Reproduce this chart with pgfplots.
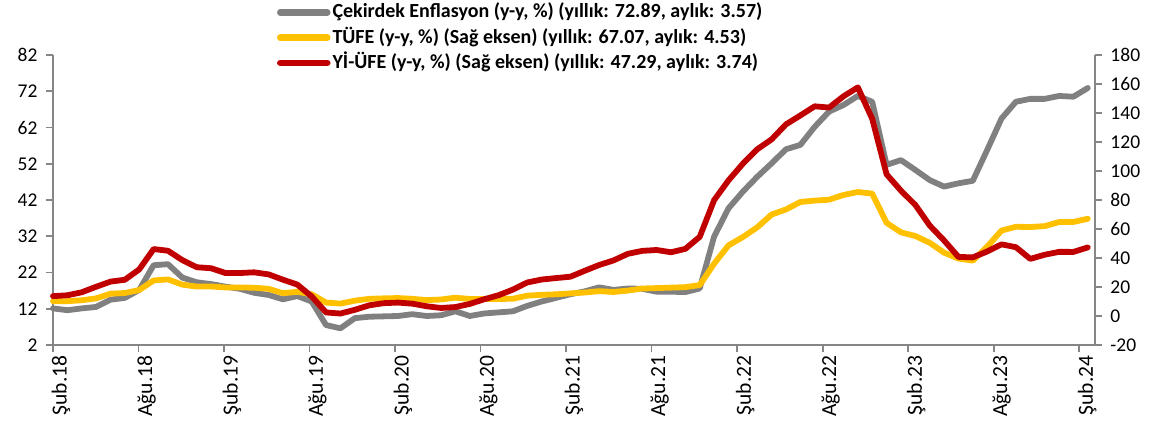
\documentclass[border=0pt]{standalone}
\usepackage{fontspec}
\setmainfont{Carlito}
\usepackage{pgfplots}
\usepackage{pgfplotstable}
\pgfplotsset{compat=1.18}
\definecolor{coregray}{RGB}{128,128,128}
\definecolor{cpiyellow}{RGB}{255,192,0}
\definecolor{ppired}{RGB}{192,0,0}
\definecolor{axgray}{RGB}{134,134,134}

\pgfplotstableread{
i core cpi ppi
0 12.1 10.26 13.71
1 11.6 10.23 14.28
2 12.1 10.85 16.37
3 12.5 12.15 20.16
4 14.5 15.39 23.71
5 15.0 15.85 25.00
6 17.2 17.90 32.13
7 24.0 24.52 46.15
8 24.3 25.24 45.01
9 20.6 21.62 38.54
10 19.3 20.30 33.64
11 18.8 20.35 32.93
12 18.1 19.67 29.64
13 17.5 19.71 29.64
14 16.4 19.50 30.12
15 15.8 18.71 28.71
16 14.6 15.72 25.04
17 15.5 16.65 21.66
18 14.0 15.01 13.45
19 7.5 9.26 2.45
20 6.6 8.55 1.70
21 9.4 10.56 4.26
22 9.8 11.84 7.36
23 9.9 12.15 8.84
24 10.0 12.37 9.26
25 10.5 11.86 8.50
26 10.0 10.94 6.71
27 10.2 11.39 5.53
28 11.3 12.62 6.17
29 10.0 11.76 8.33
30 10.7 11.77 11.53
31 11.0 11.75 14.33
32 11.3 11.89 18.20
33 12.8 14.03 23.11
34 14.0 14.60 25.15
35 15.0 14.97 26.16
36 16.0 15.61 27.09
37 16.8 16.19 31.20
38 17.9 17.14 35.17
39 17.2 16.59 38.33
40 17.6 17.53 42.89
41 17.5 18.95 44.92
42 16.7 19.25 45.52
43 16.7 19.58 43.96
44 16.6 19.89 46.31
45 17.6 21.31 54.62
46 31.9 36.08 79.89
47 39.7 48.69 93.53
48 44.3 54.44 105.01
49 48.4 61.14 114.97
50 52.1 69.97 121.82
51 56.0 73.50 132.16
52 57.2 78.62 138.31
53 62.2 79.60 144.61
54 66.4 80.21 143.75
55 68.2 83.45 151.50
56 70.7 85.51 157.69
57 69.1 84.39 136.02
58 51.7 64.27 97.72
59 53.0 57.68 86.46
60 50.3 55.18 76.61
61 47.5 50.51 62.43
62 45.7 43.68 52.11
63 46.6 39.59 40.76
64 47.3 38.21 40.42
65 55.8 47.83 44.50
66 64.5 58.94 49.41
67 69.1 61.53 47.44
68 69.9 61.36 39.39
69 69.9 61.98 42.25
70 70.7 64.77 44.22
71 70.5 64.86 44.20
72 72.9 67.07 47.29
}\datatable

\pgfplotsset{
  common/.style={
    scale only axis, width=1042bp, height=290bp,
    at={(53bp,83bp)}, anchor=south west,
    xmin=0, xmax=72.5,
    clip=false,
    axis line style={axgray, line width=1.8bp, -},
    major tick style={axgray, line width=1.8bp},
    major tick length=7bp,
    tick align=outside,
    tick label style={font=\fontsize{19.5bp}{23bp}\selectfont, black, /pgf/number format/assume math mode=true},
  },
  serie/.style={line width=5.8bp, line join=round, line cap=round},
}

\begin{document}
\begin{tikzpicture}
\path[use as bounding box] (0,0) rectangle (1162bp,428bp);
\begin{axis}[common,
  axis y line*=left, axis x line*=bottom,
  ymin=2, ymax=82, ytick={2,12,...,82},
  y tick label style={xshift=-5bp},
  xtick={0,5.95,11.9,17.85,23.8,29.75,35.7,41.65,47.6,53.55,59.5,65.45,71.4},
  xticklabels={Şub.18,Ağu.18,Şub.19,Ağu.19,Şub.20,Ağu.20,Şub.21,Ağu.21,Şub.22,Ağu.22,Şub.23,Ağu.23,Şub.24},
  x tick label style={xshift=8bp, rotate=90, anchor=east, font=\fontsize{21.5bp}{24bp}\selectfont},
]
\addplot[serie, coregray] table[x=i, y=core] {\datatable};
\end{axis}
\begin{axis}[common,
  axis y line*=right, axis x line=none,
  ymin=-20, ymax=180, ytick={-20,0,...,180},
  y tick label style={xshift=5bp},
  legend style={at={(0.215,1.19)}, anchor=north west, draw=none, fill=none,
    inner sep=0pt, outer sep=0pt,
    font=\bfseries\fontsize{20bp}{24bp}\selectfont,
    nodes={inner xsep=2bp, inner ysep=1.75bp, text height=16.2bp, text depth=5.5bp}},
  legend cell align=left,
  legend image code/.code={\draw[#1, line width=6.5bp, line cap=round] (0bp,0bp) -- (47bp,0bp);},
]
\addlegendimage{coregray}
\addlegendentry{Çekirdek Enflasyon (y-y, \%) (yıllık: 72.89, aylık: 3.57)}
\addplot[serie, cpiyellow] table[x=i, y=cpi] {\datatable};
\addlegendentry{TÜFE (y-y, \%) (Sağ eksen) (yıllık: 67.07, aylık: 4.53)}
\addplot[serie, ppired] table[x=i, y=ppi] {\datatable};
\addlegendentry{Yİ-ÜFE (y-y, \%) (Sağ eksen) (yıllık: 47.29, aylık: 3.74)}
\end{axis}
\end{tikzpicture}
\end{document}
